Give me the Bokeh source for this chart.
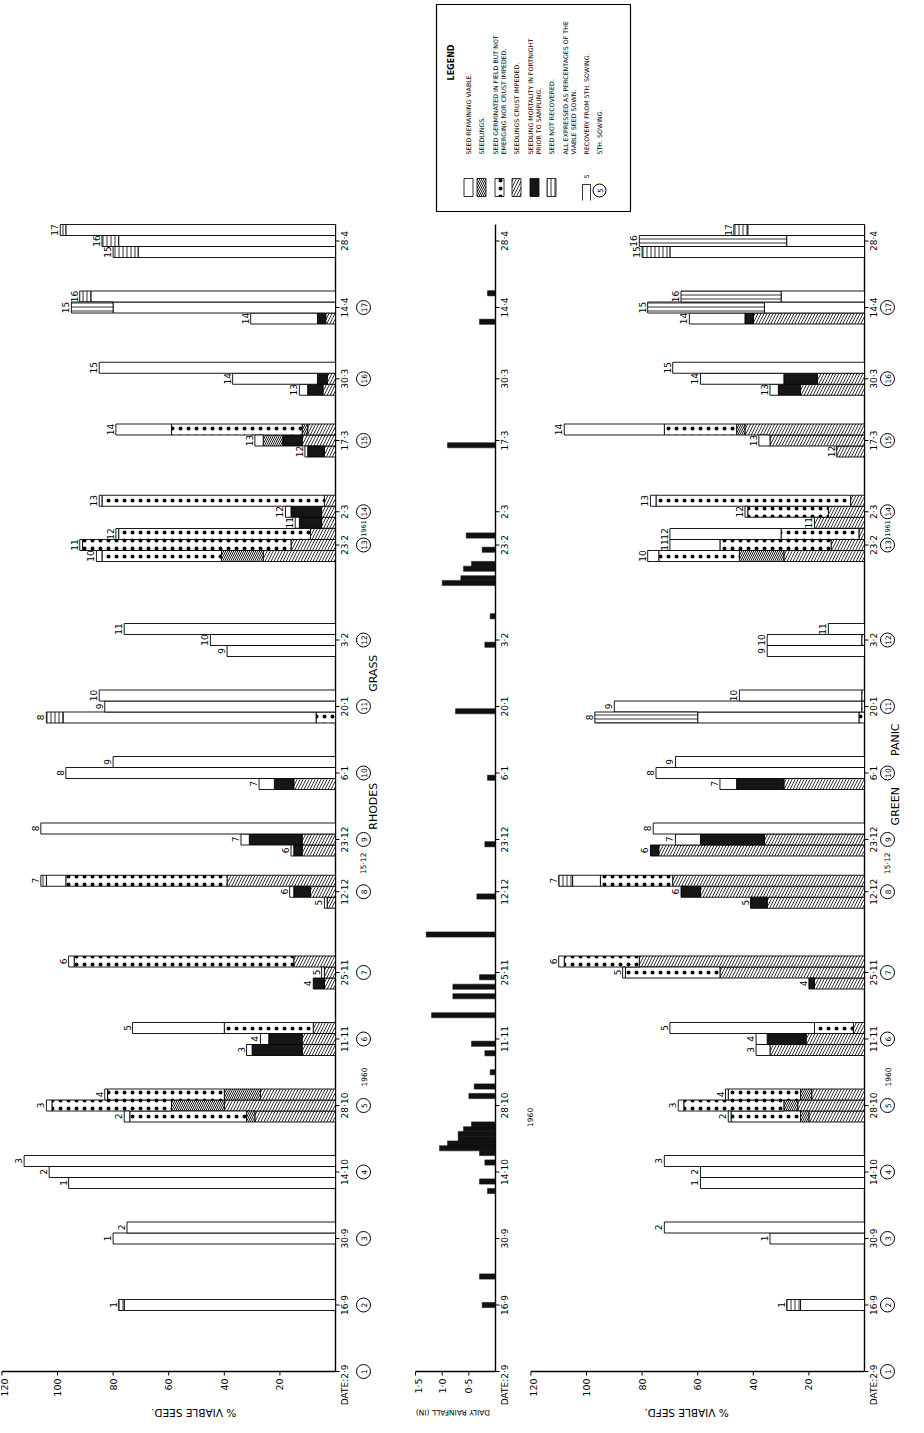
import math
import datetime as dt
from bokeh.plotting import figure
from bokeh.models import Range1d, ColumnDataSource
from bokeh.core.properties import value
from bokeh.embed import file_html
from bokeh.resources import INLINE

# ---------------- data ----------------
date_labels = ["2·9", "16·9", "30·9", "14·10", "28·10", "11·11", "25·11", "12·12", "23·12",
               "6·1", "20·1", "3·2", "23·2", "2·3", "17·3", "30·3", "14·4", "28·4"]
date_iso = ["1960-09-02", "1960-09-16", "1960-09-30", "1960-10-14", "1960-10-28", "1960-11-11",
            "1960-11-25", "1960-12-12", "1960-12-23", "1961-01-06", "1961-01-20", "1961-02-03",
            "1961-02-23", "1961-03-02", "1961-03-17", "1961-03-30", "1961-04-14", "1961-04-28"]
sowing_numbers = list(range(1, 18))          # circled sowing number at each of the first 17 dates

value_ticks = [20, 40, 60, 80, 100, 120]
value_tick_labels = ["20", "40", "60", "80", "100", "120"]
rain_ticks = [0.5, 1.0, 1.5]
rain_tick_labels = ["0·5", "1·0", "1·5"]

# Rhodes grass: one entry per bar (segment lengths in % of viable seed sown)
rg_date = ["16·9", "30·9", "30·9", "14·10", "14·10", "14·10", "28·10", "28·10", "28·10",
           "11·11", "11·11", "11·11", "25·11", "25·11", "25·11", "12·12", "12·12", "12·12",
           "23·12", "23·12", "23·12", "6·1", "6·1", "6·1", "20·1", "20·1", "20·1",
           "3·2", "3·2", "3·2", "23·2", "23·2", "23·2", "2·3", "2·3", "2·3",
           "17·3", "17·3", "17·3", "30·3", "30·3", "30·3", "14·4", "14·4", "14·4",
           "28·4", "28·4", "28·4"]
rg_sowing = [1, 1, 2, 1, 2, 3, 2, 3, 4, 3, 4, 5, 4, 5, 6, 5, 6, 7, 6, 7, 8, 7, 8, 9, 8, 9, 10,
             9, 10, 11, 10, 11, 12, 11, 12, 13, 12, 13, 14, 13, 14, 15, 14, 15, 16, 15, 16, 17]
rg_crust = [0, 0, 0, 0, 0, 0, 29, 40, 27, 12, 12, 8, 4, 4, 15, 3, 9, 39, 12, 12, 0, 15, 0, 0,
            0, 0, 0, 0, 0, 0, 26, 16, 9, 5, 5, 4, 4, 12, 10, 4.5, 3, 0, 3.5, 0, 0, 0, 0, 0]
rg_mortality = [0, 0, 0, 0, 0, 0, 0, 0, 0, 18, 12, 0, 4, 0, 0, 0, 6, 0, 3, 19, 0, 7, 0, 0,
                0, 0, 0, 0, 0, 0, 0, 0, 0, 8, 11, 0, 6, 7, 0, 5.5, 3.5, 0, 3, 0, 0, 0, 0, 0]
rg_seedlings = [0, 0, 0, 0, 0, 0, 3, 19, 13, 0, 0, 0, 0, 0, 0, 0, 0, 0, 0, 0, 0, 0, 0, 0,
                0, 0, 0, 0, 0, 0, 15, 0, 0, 0, 0, 0, 0, 7, 2, 0, 0, 0, 0, 0, 0, 0, 0, 0]
rg_germinated = [0, 0, 0, 0, 0, 0, 42, 43, 42, 0, 0, 32, 0, 0, 79, 0, 0, 58, 0, 0, 0, 0, 0, 0,
                 7, 0, 0, 0, 0, 0, 43, 75, 69, 0, 0, 80, 0, 0, 47, 0, 0, 0, 0, 0, 0, 0, 0, 0]
rg_viable = [76, 80, 75, 96, 103, 112, 2, 2, 1, 2, 3, 33, 0, 1, 2, 1, 1.5, 7, 1, 3, 106, 5.5, 97, 80,
             91, 83, 85, 39, 45, 76, 2, 1, 1, 1.5, 2, 1, 1, 3, 20, 3, 30.5, 85, 24, 80, 88, 71, 78, 97]
rg_not_recovered = [2, 0, 0, 0, 0, 0, 0, 0, 0, 0, 0, 0, 0, 0, 0, 0, 0, 2, 0, 0, 0, 0, 0, 0,
                    6, 0, 0, 0, 0, 0, 0, 0, 0, 0, 0, 0, 0, 0, 0, 0, 0, 0, 0, 15, 4, 9, 6, 2]

# Green panic
gp_date = list(rg_date)
gp_sowing = list(rg_sowing)
gp_crust = [0, 0, 0, 0, 0, 0, 20, 24, 19, 34, 21, 4, 18, 52, 81, 35, 59, 69, 74, 36, 0, 29, 0, 0,
            0, 0, 0, 0, 0, 0, 29, 12, 2, 18, 13, 5, 10, 34, 43, 23, 17, 0, 40, 0, 0, 0, 0, 0]
gp_mortality = [0, 0, 0, 0, 0, 0, 0, 0, 0, 0, 14, 0, 2, 0, 0, 6, 7, 0, 3, 23, 0, 17, 0, 0,
                0, 0, 0, 0, 0, 0, 0, 0, 0, 0, 0, 0, 0, 0, 0, 8, 12, 0, 3, 0, 0, 0, 0, 0]
gp_seedlings = [0, 0, 0, 0, 0, 0, 3, 5, 4, 0, 0, 0, 0, 0, 0, 0, 0, 0, 0, 0, 0, 0, 0, 0,
                0, 0, 0, 0, 0, 0, 16, 0, 0, 0, 0, 0, 0, 0, 3, 0, 0, 0, 0, 0, 0, 0, 0, 0]
gp_germinated = [0, 0, 0, 0, 0, 0, 25, 36, 26, 0, 0, 14, 0, 34, 27, 0, 0, 26, 0, 0, 0, 0, 0, 0,
                 2, 1, 1, 0, 1, 0, 29, 40, 28, 0, 29, 70, 0, 0, 26, 0, 0, 0, 0, 0, 0, 0, 0, 0]
gp_viable = [23, 34, 72, 59, 59, 72, 1, 2, 1, 5, 4, 52, 0, 1, 2, 0, 0, 10, 0, 9, 76, 6, 75, 68,
             58, 89, 44, 35, 34, 13, 4, 18, 40, 0, 1, 2, 0, 4, 36, 3, 30, 69, 20, 36, 30, 70, 28, 42]
gp_not_recovered = [5, 0, 0, 0, 0, 0, 0, 0, 0, 0, 0, 0, 0, 0, 0, 0, 0, 5, 0, 0, 0, 0, 0, 0,
                    37, 0, 0, 0, 0, 0, 0, 0, 0, 0, 0, 0, 0, 0, 0, 0, 0, 0, 0, 42, 36, 10, 53, 5]

# daily rainfall (inches)
rain_iso = ["1960-09-16", "1960-09-22", "1960-10-10", "1960-10-12", "1960-10-16", "1960-10-18",
            "1960-10-19", "1960-10-20", "1960-10-21", "1960-10-22", "1960-10-23", "1960-10-24",
            "1960-10-30", "1960-11-01", "1960-11-04", "1960-11-08", "1960-11-10", "1960-11-16",
            "1960-11-20", "1960-11-22", "1960-11-24", "1960-12-03", "1960-12-11", "1960-12-22",
            "1961-01-05", "1961-01-19", "1961-02-02", "1961-02-08", "1961-02-15", "1961-02-16",
            "1961-02-18", "1961-02-19", "1961-02-22", "1961-02-25", "1961-03-16", "1961-04-11",
            "1961-04-17"]
rain_inches = [0.25, 0.3, 0.15, 0.3, 0.2, 0.3, 1.05, 0.9, 0.7, 0.7, 0.6, 0.45, 0.5, 0.4, 0.1,
               0.2, 0.45, 1.2, 0.8, 0.8, 0.3, 1.3, 0.35, 0.2, 0.15, 0.75, 0.2, 0.1, 1.0, 0.65,
               0.6, 0.45, 0.25, 0.55, 0.9, 0.3, 0.15]

# ---------------- layout ----------------
FW, FH = 908, 1417
PXU, PXR, PXD = 2.78, 53.3, 4.75          # px per %, px per inch, px per day
RG0, RN0, GP0 = 335, 495, 864             # frame px of each panel's zero line
D0 = 1371                                  # frame px (from top) of day 0
BAR_H = 11.0 / PXD
FONT = value("DejaVu Sans")
START = dt.date(1960, 9, 2)


def day(iso):
    return (dt.date.fromisoformat(iso) - START).days


day_of = {lab: day(iso) for lab, iso in zip(date_labels, date_iso)}
date_days = [day_of[d] for d in date_labels]

p = figure(width=FW, height=FH, output_backend="svg", toolbar_location=None,
           x_range=Range1d(RG0 / PXU, (RG0 - FW) / PXU),
           y_range=Range1d(-(FH - D0) / PXD, D0 / PXD),
           x_axis_location=None, y_axis_location=None, min_border=0)
p.extra_x_ranges = {"gp": Range1d(GP0 / PXU, (GP0 - FW) / PXU),
                    "rain": Range1d(RN0 / PXR, (RN0 - FW) / PXR)}
p.grid.visible = False
p.outline_line_color = None
p.background_fill_color = "white"
p.border_fill_color = "white"

PANELS = {"default": (RG0, PXU), "gp": (GP0, PXU), "rain": (RN0, PXR)}


def px_x(xr, px):
    z, s = PANELS[xr]
    return (z - px) / s


def px_y(py):
    return (D0 - py) / PXD


def txt(xr, x, y, text, size="8px", angle=math.pi / 2, align="center", base="middle",
        xoff=0, style="normal"):
    p.text(x=x, y=y, text=text, x_range_name=xr, angle=angle, text_align=align,
           text_baseline=base, text_font=FONT, text_font_size=size, text_color="black",
           x_offset=xoff, text_font_style=style)


STYLES = {
    "crust": dict(fill_color="white", hatch_pattern="/", hatch_scale=6, hatch_weight=0.8, hatch_color="black"),
    "seedlings": dict(fill_color="white", hatch_pattern="\\", hatch_scale=4, hatch_weight=0.9, hatch_color="black"),
    "mortality": dict(fill_color="#161616"),
    "germinated": dict(fill_color="white", hatch_pattern=".", hatch_scale=8, hatch_weight=1.1, hatch_color="black"),
    "viable": dict(fill_color="white"),
    "nr_short": dict(fill_color="white", hatch_pattern="|", hatch_scale=4, hatch_weight=0.8, hatch_color="black"),
    "nr_long": dict(fill_color="white", hatch_pattern="-", hatch_scale=4, hatch_weight=0.8, hatch_color="black"),
}


def draw_bars(xr, dates_, sows, cols):
    groups = {}
    for i, d in enumerate(dates_):
        groups.setdefault(d, []).append(i)
    ys = [0.0] * len(dates_)
    for d, idx in groups.items():
        idx = sorted(idx, key=lambda k: sows[k])
        n = len(idx)
        for r, k in enumerate(idx):
            ys[k] = day_of[d] + (r - (n - 1) // 2) * BAR_H
    left = [0.0] * len(dates_)
    names = ["crust", "mortality", "seedlings", "germinated", "viable", "nr"]
    for name, vals in zip(names, cols):
        rows = [k for k in range(len(vals)) if vals[k] > 0]
        if name == "nr":
            parts = [("nr_short", [k for k in rows if vals[k] < 12]),
                     ("nr_long", [k for k in rows if vals[k] >= 12])]
        else:
            parts = [(name, rows)]
        for sty, rr in parts:
            if not rr:
                continue
            src = ColumnDataSource(dict(y=[ys[k] for k in rr], left=[left[k] for k in rr],
                                        right=[left[k] + vals[k] for k in rr]))
            p.hbar(y="y", left="left", right="right", height=BAR_H, source=src, x_range_name=xr,
                   line_color="black", line_width=0.9, **STYLES[sty])
        for k in rows:
            left[k] += vals[k]
    txt(xr, left, ys, [str(s) for s in sows], size="9px", base="bottom", xoff=-2)


def draw_panel(xr, ticks, labels, vmax, circle_off, title_text, title_x, title_size):
    z, s = PANELS[xr]
    top = px_y(224)
    lw = 1.4
    # value axis
    p.segment(x0=[0], y0=[0], x1=[vmax], y1=[0], x_range_name=xr, line_color="black", line_width=lw)
    n = len(ticks)
    p.segment(x0=ticks, y0=[0] * n, x1=ticks, y1=[-4 / PXD] * n, x_range_name=xr,
              line_color="black", line_width=1)
    xoffs = [0] * (n - 1) + [3]
    txt(xr, ticks, [-7 / PXD] * n, labels, size="9.5px", align="right", xoff=xoffs)
    # date axis
    p.segment(x0=[0], y0=[0], x1=[0], y1=[top], x_range_name=xr, line_color="black", line_width=lw)
    m = len(date_days)
    p.segment(x0=[0] * m, y0=date_days, x1=[-4 / s] * m, y1=date_days, x_range_name=xr,
              line_color="black", line_width=1)
    txt(xr, [0] * (m - 1), date_days[1:], date_labels[1:], size="9px", base="top", xoff=4)
    txt(xr, [0], [7 / PXD], ["DATE:" + date_labels[0]], size="9px", base="top", align="right", xoff=4)
    if circle_off:
        cx = -circle_off / s
        cd = date_days[:len(sowing_numbers)]
        p.scatter(x=[cx] * len(cd), y=cd, size=14, marker="circle", fill_color="white",
                  line_color="black", line_width=1, x_range_name=xr)
        txt(xr, [cx] * len(cd), cd, [str(k) for k in sowing_numbers], size="7.5px")
    # axis title (upside down, as in the turned page)
    txt(xr, [title_x], [px_y(1412)], [title_text], size=title_size, angle=math.pi)


# panels
draw_panel("default", value_ticks, value_tick_labels, 120, 28, "% VIABLE SEED.", 51, "10.5px")
draw_panel("gp", value_ticks, value_tick_labels, 120, 23, "% VIABLE SEFD.", 64, "10.5px")
draw_panel("rain", rain_ticks, rain_tick_labels, 1.5, 0, "DAILY RAINFALL (IN)", 0.8, "7.5px")

draw_bars("default", rg_date, rg_sowing, [rg_crust, rg_mortality, rg_seedlings,
                                          rg_germinated, rg_viable, rg_not_recovered])
draw_bars("gp", gp_date, gp_sowing, [gp_crust, gp_mortality, gp_seedlings,
                                     gp_germinated, gp_viable, gp_not_recovered])

# rainfall bars
rd = [day(s) for s in rain_iso]
p.hbar(y=rd, left=[0] * len(rd), right=rain_inches, height=1.1, x_range_name="rain",
       fill_color="#111111", line_color="#111111", line_width=0.5)

# year / special labels
for xr, off in (("default", 28), ("gp", 23)):
    s = PANELS[xr][1]
    cx = -off / s
    txt(xr, [cx, cx], [day_of["28·10"] + 6, day_of["12·12"] + 6], ["1960", "15·12"], size="7.5px")
    txt(xr, [cx], [(day_of["23·2"] + day_of["2·3"]) / 2], ["1961"], size="6.5px")
rs = PANELS["rain"][1]
txt("rain", [-34 / rs], [day_of["28·10"] - 2.5], ["1960"], size="7.5px")

# panel names
txt("default", [-38 / PXU, -38 / PXU], [(day_of["23·12"] + day_of["6·1"]) / 2,
                                        (day_of["20·1"] + day_of["3·2"]) / 2],
    ["RHODES", "GRASS"], size="11px")
txt("gp", [-31 / PXU, -31 / PXU], [(day_of["23·12"] + day_of["6·1"]) / 2,
                                   (day_of["6·1"] + day_of["20·1"]) / 2],
    ["GREEN", "PANIC"], size="11px")

# ---------------- legend ----------------
LX0, LX1, LY0, LY1 = 436, 630, 4, 211
X = lambda px: px_x("default", px)
p.quad(left=[X(LX0)], right=[X(LX1)], top=[px_y(LY0)], bottom=[px_y(LY1)],
       fill_color="white", line_color="black", line_width=1.2)
txt("default", [X(451)], [px_y(62)], ["LEGEND"], size="8px", style="bold")
legend_rows = [
    (["SEED REMAINING VIABLE."], "viable", [468]),
    (["SEEDLINGS."], "seedlings", [481]),
    (["SEED GERMINATED IN FIELD BUT NOT", "EMERGING NOR CRUST IMPEDED."], "germinated", [495, 503]),
    (["SEEDLINGS CRUST IMPEDED."], "crust", [516]),
    (["SEEDLING MORTALITY IN FORTNIGHT", "PRIOR TO SAMPLING."], "mortality", [530, 538]),
    (["SEED NOT RECOVERED."], "nr_short", [551]),
    (["ALL EXPRESSED AS PERCENTAGES OF THE", "VIABLE SEED SOWN."], None, [565, 573]),
    (["RECOVERY FROM 5TH. SOWING."], "bar5", [586]),
    (["5TH. SOWING."], "circle5", [599]),
]
for lines, sty, xs in legend_rows:
    txt("default", [X(v) for v in xs], [px_y(154)] * len(xs), lines, size="6.3px", align="left")
    cxp = sum(xs) / len(xs)
    if sty in STYLES:
        p.quad(left=[X(cxp - 4.5)], right=[X(cxp + 4.5)], top=[px_y(178)], bottom=[px_y(196)],
               line_color="black", line_width=0.8, **STYLES[sty])
    elif sty == "bar5":
        p.segment(x0=[X(cxp - 4), X(cxp - 4), X(cxp + 4)],
                  y0=[px_y(184), px_y(184), px_y(184)],
                  x1=[X(cxp + 4), X(cxp - 4), X(cxp + 4)],
                  y1=[px_y(184), px_y(200), px_y(200)], line_color="black", line_width=0.8)
        txt("default", [X(cxp)], [px_y(176)], ["5"], size="6.5px")
    elif sty == "circle5":
        p.scatter(x=[X(cxp)], y=[px_y(190)], size=13, marker="circle",
                  fill_color="white", line_color="black")
        txt("default", [X(cxp)], [px_y(190)], ["5"], size="7px")

open("out.html", "w").write(file_html(p, INLINE))
